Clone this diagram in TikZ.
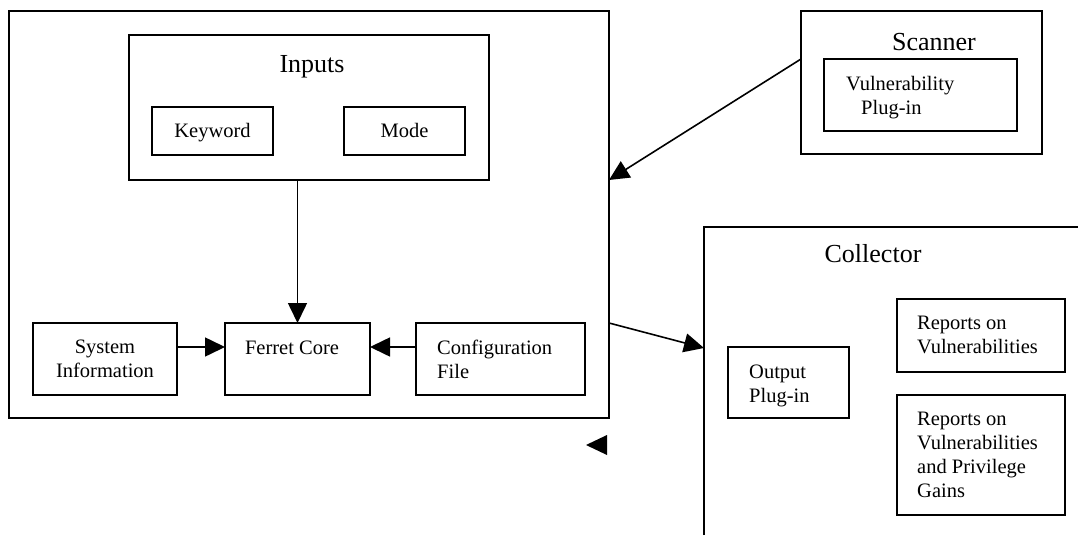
\documentclass[tikz,border=0pt]{standalone}
\usepackage{fontspec}
\setmainfont{Liberation Serif}
\usetikzlibrary{arrows.meta}
\newcommand{\bodyfont}{\fontsize{20.5}{24.3}\selectfont}
\newcommand{\titlefont}{\fontsize{26}{30}\selectfont}
\newcommand{\stack}[1]{\begin{tabular}[t]{@{}l@{}}#1\end{tabular}}
\begin{document}
\begin{tikzpicture}[x=1pt,y=-1pt,
  box/.style={draw, line width=1.6pt, inner sep=0pt, outer sep=0pt, align=center, font=\bodyfont},
  oneline/.style={text height=15pt, text depth=2pt},
  txt/.style={inner sep=0pt, anchor=base west, font=\bodyfont},
  title/.style={inner sep=0pt, anchor=base, font=\titlefont},
  flow/.style={line width=1.6pt, -{Triangle[length=20pt,width=19pt]}}]
\useasboundingbox (0,0) rectangle (1078,535);

% Ferret host
\node[box, minimum width=600pt, minimum height=407pt] (main) at (309,214.5) {};
\node[box, minimum width=360pt, minimum height=145pt] (inputs) at (309,107.5) {};
\node[title] (inputsT) at (312,72) {Inputs};
\node[box, oneline, minimum width=121pt, minimum height=48pt] (keyword) at (212.5,131) {Keyword};
\node[box, oneline, minimum width=121pt, minimum height=48pt] (mode) at (404.5,131) {Mode};
\node[box, minimum width=144pt, minimum height=72pt] (sysinfo) at (105,359) {System\\Information};
\node[box, minimum width=145pt, minimum height=72pt] (core) at (297.5,359) {};
\node[txt, anchor=base] (coreT) at (292,354) {Ferret Core};
\node[box, minimum width=169pt, minimum height=72pt] (config) at (500.5,359) {};
\node[txt] (configT) at (437,354) {\stack{Configuration\\File}};

% Scanner
\node[box, minimum width=241pt, minimum height=143pt] (scanner) at (921.5,82.5) {};
\node[title] (scannerT) at (934,51) {Scanner};
\node[box, minimum width=193pt, minimum height=72pt] (vuln) at (920.5,95) {};
\node[txt] (vulnT) at (846,90) {\stack{Vulnerability\\\hspace*{15pt}Plug-in}};

% Collector (open frame)
\coordinate (collBottom) at (704,535);
\coordinate (collCorner) at (704,227);
\coordinate (collRight) at (1078,227);
\coordinate (collIn) at (704,348);
\draw[line width=1.6pt] (collBottom) -- (collCorner) -- (collRight);
\node[title] (collT) at (873,262) {Collector};
\node[box, minimum width=121pt, minimum height=71pt] (output) at (788.5,382.5) {};
\node[txt] (outputT) at (749,378) {\stack{Output\\Plug-in}};
\node[box, minimum width=168pt, minimum height=73pt] (rep1) at (981,335.5) {};
\node[txt] (rep1T) at (917,329) {\stack{Reports on\\Vulnerabilities}};
\node[box, minimum width=168pt, minimum height=120pt] (rep2) at (981,455) {};
\node[txt] (rep2T) at (917,425) {\stack{Reports on\\Vulnerabilities\\and Privilege\\Gains}};

% Connectors
\draw[flow] (core.north |- inputs.south) -- (core.north);
\draw[flow] ([yshift=12pt]sysinfo.east) -- ([yshift=12pt]core.west);
\draw[flow] ([yshift=12pt]config.west) -- ([yshift=12pt]core.east);
\draw[flow] (scanner.west |- vuln.north) -- (main.east |- inputs.south);
\draw[flow] (main.east |- core.north) -- (collIn);

% Lone arrowhead below the host frame
\coordinate (loneTip) at (586,445);
\fill (607,435) -- (loneTip) -- (607,455) -- cycle;
\end{tikzpicture}
\end{document}
